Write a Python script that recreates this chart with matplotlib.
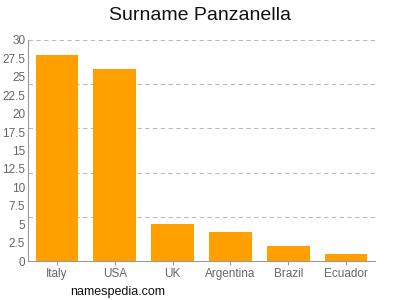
import matplotlib
matplotlib.use("Agg")
import matplotlib.pyplot as plt
import numpy as np

countries = ["Italy", "USA", "UK", "Argentina", "Brazil", "Ecuador"]
counts = [28, 26, 5, 4, 2, 1]
yticks = [0, 2.5, 5, 7.5, 10, 12.5, 15, 17.5, 20, 22.5, 25, 27.5, 30]
ytick_labels = ["0", "2.5", "5", "7.5", "10", "12.5", "15", "17.5", "20", "22.5", "25", "27.5", "30"]
grid_levels = [6, 12, 18, 24, 30]

plt.rcParams["font.family"] = ["Liberation Sans", "DejaVu Sans"]

fig = plt.figure(figsize=(4, 3), dpi=100)
ax = fig.add_axes([0.07, 0.13, 0.8675, 0.7367])
x = np.arange(len(countries))
ax.bar(x, counts, width=0.74, color="#FFA000", zorder=2)
for g in grid_levels:
    ax.axhline(g, color="#bbbbbb", lw=0.8, ls=(0, (4, 3)), zorder=1)
ax.set_xlim(-0.5, len(countries) - 0.5)
ax.set_ylim(0, 30)
ax.set_yticks(yticks)
ax.set_yticklabels(ytick_labels)
ax.set_xticks(x)
ax.set_xticklabels(countries)
for s in ["top", "right"]:
    ax.spines[s].set_visible(False)
for s in ["left", "bottom"]:
    ax.spines[s].set_color("#999999")
    ax.spines[s].set_linewidth(0.8)
ax.tick_params(axis="y", length=0, labelsize=8.5, colors="#666666", pad=2)
ax.tick_params(axis="x", length=3, labelsize=8.5, colors="#666666", color="#999999", pad=2)
fig.text(0.5, 0.95, "Surname Panzanella", ha="center", va="center", fontsize=14, color="#111111")
fig.text(0.175, 0.027, "namespedia.com", ha="left", va="center", fontsize=9, color="#111111")
fig.savefig("out.png", dpi=100)
